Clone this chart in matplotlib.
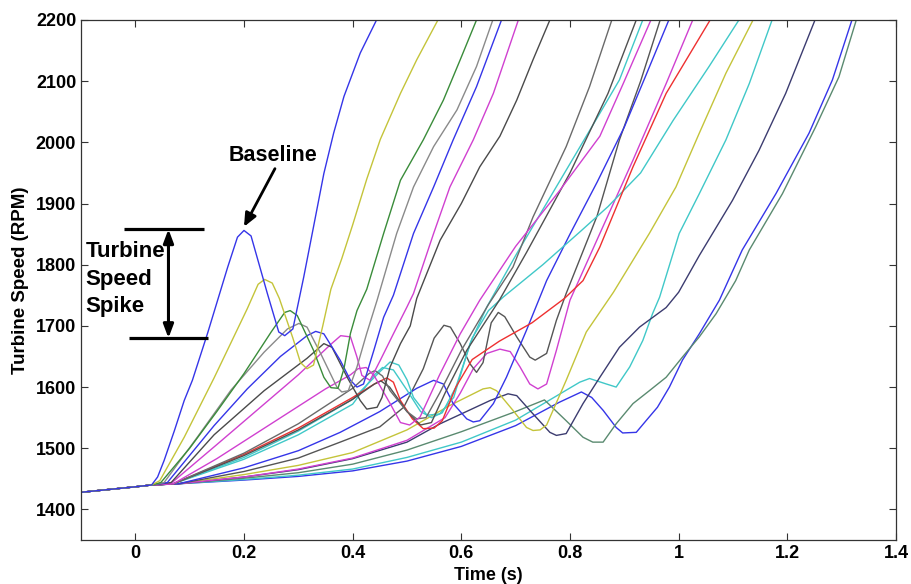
import matplotlib

matplotlib.use("Agg")
import matplotlib.pyplot as plt

plt.rcParams["font.family"] = ["Liberation Sans", "DejaVu Sans"]
plt.rcParams["font.weight"] = "bold"

# shared lead-in before the runs split apart (time s, rpm)
lead_t = [-0.1, 0.0, 0.03]
lead_rpm = [1428, 1437, 1440]

# each run: (time s, turbine speed rpm)
run_baseline = [(0.041, 1453), (0.053, 1480), (0.072, 1529), (0.09, 1578), (0.105, 1611),
                (0.133, 1688), (0.17, 1796), (0.188, 1845), (0.2, 1856), (0.213, 1847),
                (0.243, 1753), (0.264, 1690), (0.275, 1684), (0.29, 1695), (0.31, 1780),
                (0.328, 1862), (0.347, 1949), (0.365, 2015), (0.384, 2075), (0.414, 2146),
                (0.444, 2200)]
run_yellow1 = [(0.045, 1447), (0.09, 1518), (0.145, 1615), (0.206, 1728), (0.226, 1768),
               (0.238, 1776), (0.252, 1770), (0.265, 1745), (0.29, 1680), (0.304, 1640),
               (0.316, 1630), (0.328, 1636), (0.345, 1700), (0.36, 1760), (0.38, 1810),
               (0.4, 1865), (0.426, 1940), (0.451, 2005), (0.488, 2080), (0.518, 2135),
               (0.557, 2200)]
run_green = [(0.047, 1444), (0.1, 1500), (0.15, 1560), (0.2, 1622), (0.25, 1690),
             (0.275, 1722), (0.285, 1725), (0.298, 1717), (0.328, 1660), (0.347, 1616),
             (0.36, 1599), (0.373, 1598), (0.384, 1630), (0.396, 1688), (0.408, 1725),
             (0.426, 1760), (0.457, 1851), (0.488, 1938), (0.53, 2004), (0.567, 2069),
             (0.598, 2135), (0.628, 2200)]
run_gray1 = [(0.053, 1444), (0.114, 1518), (0.176, 1595), (0.237, 1657), (0.28, 1695),
             (0.301, 1704), (0.316, 1698), (0.341, 1655), (0.371, 1600), (0.38, 1592),
             (0.392, 1594), (0.408, 1633), (0.426, 1688), (0.445, 1742), (0.481, 1851),
             (0.512, 1927), (0.549, 1993), (0.592, 2053), (0.628, 2124), (0.658, 2200)]
run_blue2 = [(0.059, 1444), (0.145, 1537), (0.206, 1597), (0.267, 1650), (0.316, 1684),
             (0.332, 1691), (0.347, 1687), (0.377, 1644), (0.396, 1611), (0.408, 1600),
             (0.42, 1605), (0.439, 1660), (0.457, 1714), (0.475, 1750), (0.512, 1851),
             (0.549, 1927), (0.585, 2004), (0.628, 2091), (0.674, 2200)]
run_dark1 = [(0.066, 1444), (0.145, 1522), (0.237, 1594), (0.316, 1647), (0.347, 1671),
             (0.362, 1665), (0.39, 1616), (0.414, 1578), (0.426, 1564), (0.445, 1567),
             (0.454, 1583), (0.469, 1633), (0.488, 1671), (0.506, 1700), (0.518, 1745),
             (0.561, 1840), (0.6, 1900), (0.634, 1960), (0.671, 2010), (0.702, 2069),
             (0.732, 2135), (0.763, 2200)]
run_magenta1 = [(0.065, 1442), (0.15, 1506), (0.3, 1620), (0.36, 1670), (0.378, 1684),
                (0.396, 1682), (0.408, 1649), (0.417, 1619), (0.432, 1611), (0.451, 1644),
                (0.475, 1687), (0.5, 1731), (0.512, 1753), (0.549, 1851), (0.579, 1927),
                (0.622, 2004), (0.659, 2080), (0.705, 2200)]
run_magenta2 = [(0.07, 1442), (0.15, 1483), (0.25, 1540), (0.35, 1597), (0.396, 1620),
                (0.41, 1630), (0.425, 1632), (0.44, 1618), (0.469, 1573), (0.488, 1542),
                (0.505, 1538), (0.524, 1551), (0.56, 1620), (0.598, 1687), (0.634, 1742),
                (0.7, 1830), (0.78, 1920), (0.855, 2010), (0.898, 2096), (0.949, 2200)]
run_gray2 = [(0.07, 1442), (0.2, 1492), (0.3, 1540), (0.4, 1598), (0.43, 1622),
             (0.441, 1627), (0.455, 1618), (0.469, 1594), (0.5, 1560), (0.518, 1548),
             (0.535, 1550), (0.56, 1590), (0.6, 1660), (0.65, 1735), (0.695, 1796),
             (0.732, 1878), (0.793, 1993), (0.836, 2091), (0.877, 2200)]
run_dark2 = [(0.07, 1442), (0.2, 1488), (0.3, 1530), (0.4, 1580), (0.44, 1605),
             (0.452, 1610), (0.468, 1600), (0.5, 1560), (0.525, 1538), (0.545, 1542),
             (0.57, 1590), (0.61, 1660), (0.67, 1742), (0.72, 1820), (0.8, 1950),
             (0.87, 2080), (0.922, 2200)]
run_red = [(0.07, 1442), (0.2, 1490), (0.3, 1533), (0.4, 1583), (0.44, 1605),
           (0.463, 1615), (0.475, 1608), (0.488, 1578), (0.51, 1548), (0.53, 1532),
           (0.55, 1533), (0.565, 1545), (0.59, 1600), (0.62, 1645), (0.67, 1675),
           (0.73, 1705), (0.79, 1745), (0.824, 1774), (0.855, 1829), (0.916, 1960),
           (0.977, 2080), (1.058, 2200)]
run_cyan1 = [(0.07, 1442), (0.2, 1485), (0.3, 1528), (0.4, 1580), (0.45, 1625),
             (0.469, 1641), (0.485, 1636), (0.5, 1612), (0.512, 1583), (0.537, 1554),
             (0.56, 1556), (0.586, 1583), (0.616, 1671), (0.647, 1731), (0.7, 1815),
             (0.75, 1890), (0.8, 1965), (0.85, 2040), (0.891, 2102), (0.934, 2200)]
run_cyan2 = [(0.07, 1442), (0.2, 1482), (0.3, 1522), (0.4, 1572), (0.44, 1620),
             (0.455, 1632), (0.475, 1628), (0.5, 1595), (0.525, 1560), (0.545, 1550),
             (0.565, 1558), (0.59, 1600), (0.62, 1680), (0.65, 1725), (0.677, 1747),
             (0.75, 1800), (0.82, 1855), (0.87, 1895), (0.93, 1950), (0.99, 2036),
             (1.056, 2124), (1.111, 2200)]
run_blue3 = [(0.08, 1442), (0.2, 1468), (0.3, 1496), (0.377, 1526), (0.45, 1560),
             (0.518, 1598), (0.549, 1611), (0.567, 1605), (0.585, 1573), (0.61, 1548),
             (0.622, 1543), (0.634, 1545), (0.659, 1573), (0.683, 1616), (0.72, 1693),
             (0.757, 1774), (0.8, 1850), (0.85, 1935), (0.9, 2025), (0.94, 2110),
             (0.982, 2200)]
run_dark3 = [(0.08, 1442), (0.2, 1462), (0.3, 1484), (0.377, 1510), (0.45, 1535),
             (0.494, 1567), (0.53, 1630), (0.55, 1680), (0.568, 1701), (0.58, 1698),
             (0.598, 1671), (0.616, 1638), (0.628, 1624), (0.64, 1640), (0.655, 1705),
             (0.668, 1722), (0.68, 1715), (0.702, 1682), (0.726, 1649), (0.736, 1644),
             (0.757, 1655), (0.775, 1709), (0.793, 1753), (0.85, 1880), (0.891, 2004),
             (0.93, 2100), (0.966, 2200)]
run_magenta3 = [(0.08, 1442), (0.2, 1453), (0.3, 1466), (0.4, 1484), (0.5, 1513),
                (0.57, 1550), (0.598, 1590), (0.622, 1630), (0.647, 1655), (0.671, 1662),
                (0.69, 1658), (0.708, 1633), (0.726, 1605), (0.741, 1597), (0.757, 1605),
                (0.775, 1660), (0.8, 1742), (0.855, 1851), (0.916, 1971), (0.977, 2096),
                (1.026, 2200)]
run_yellow2 = [(0.08, 1442), (0.2, 1457), (0.3, 1472), (0.4, 1493), (0.5, 1530),
               (0.579, 1570), (0.64, 1597), (0.653, 1599), (0.665, 1594), (0.695, 1562),
               (0.72, 1534), (0.732, 1529), (0.745, 1530), (0.757, 1538), (0.793, 1611),
               (0.83, 1690), (0.88, 1755), (0.946, 1851), (0.995, 1927), (1.038, 2015),
               (1.087, 2113), (1.137, 2200)]
run_navy = [(0.08, 1442), (0.2, 1453), (0.3, 1465), (0.4, 1483), (0.5, 1510),
            (0.561, 1540), (0.653, 1578), (0.686, 1589), (0.702, 1586), (0.726, 1562),
            (0.763, 1526), (0.775, 1521), (0.793, 1524), (0.824, 1573), (0.855, 1616),
            (0.891, 1665), (0.928, 1698), (0.977, 1730), (1.0, 1755), (1.038, 1815),
            (1.099, 1905), (1.148, 1987), (1.197, 2080), (1.251, 2200)]
run_teal = [(0.08, 1442), (0.2, 1451), (0.3, 1460), (0.4, 1474), (0.5, 1497),
            (0.6, 1527), (0.7, 1560), (0.753, 1579), (0.793, 1545), (0.824, 1518),
            (0.842, 1510), (0.861, 1510), (0.885, 1540), (0.916, 1573), (0.946, 1594),
            (0.977, 1616), (1.007, 1649), (1.038, 1682), (1.069, 1720), (1.105, 1774),
            (1.13, 1824), (1.191, 1916), (1.252, 2025), (1.295, 2107), (1.327, 2200)]
run_cyan3 = [(0.08, 1442), (0.2, 1449), (0.3, 1456), (0.4, 1466), (0.5, 1485),
             (0.6, 1510), (0.7, 1546), (0.78, 1588), (0.818, 1608), (0.836, 1614),
             (0.867, 1605), (0.885, 1600), (0.91, 1633), (0.934, 1676), (0.952, 1720),
             (0.965, 1747), (1.001, 1851), (1.038, 1916), (1.087, 2004), (1.13, 2096),
             (1.172, 2200)]
run_blue4 = [(0.08, 1442), (0.2, 1448), (0.3, 1454), (0.4, 1463), (0.5, 1479),
             (0.6, 1503), (0.7, 1537), (0.78, 1575), (0.821, 1592), (0.84, 1583),
             (0.861, 1562), (0.885, 1534), (0.897, 1525), (0.922, 1526), (0.94, 1545),
             (0.961, 1567), (0.983, 1600), (1.007, 1644), (1.038, 1687), (1.075, 1742),
             (1.117, 1824), (1.179, 1916), (1.24, 2015), (1.283, 2102), (1.319, 2200)]

runs = [run_baseline, run_yellow1, run_green, run_gray1, run_blue2, run_dark1,
        run_magenta1, run_magenta2, run_gray2, run_dark2, run_red, run_cyan1,
        run_cyan2, run_blue3, run_dark3, run_magenta3, run_yellow2, run_navy,
        run_teal, run_cyan3, run_blue4]
run_colors = ["#3535e8", "#c4c43a", "#3a8c3a", "#8a8a8a", "#3535e8", "#4a4a4a",
              "#d040d0", "#d040d0", "#6a6a6a", "#505050", "#ee3030", "#40c8c8",
              "#40c8c8", "#3535e8", "#555555", "#d040d0", "#c4c43a", "#3c3c70",
              "#5a8a70", "#40c8c8", "#3535e8"]

spike_top, spike_bottom = 1858, 1680

fig = plt.figure(figsize=(9.11, 5.84), dpi=100)
ax = fig.add_axes([0.0889, 0.0753, 0.8946, 0.8905])

for pts, color in reversed(list(zip(runs, run_colors))):
    t = lead_t + [p[0] for p in pts]
    n = lead_rpm + [p[1] for p in pts]
    ax.plot(t, n, color=color, lw=1.0)

# spike bracket
ax.plot([-0.02, 0.127], [spike_top, spike_top], color="k", lw=2.3, solid_capstyle="butt")
ax.plot([-0.011, 0.133], [spike_bottom, spike_bottom], color="k", lw=2.3, solid_capstyle="butt")
ax.annotate("", xy=(0.061, spike_top), xytext=(0.061, spike_bottom),
            arrowprops=dict(arrowstyle="<|-|>,head_length=0.8,head_width=0.3",
                            lw=2.2, color="k", shrinkA=0, shrinkB=0))
ax.text(-0.092, 1838, "Turbine\nSpeed\nSpike", ha="left", va="top",
        fontsize=16, fontweight="bold", linespacing=1.38)

ax.text(0.253, 1979, "Baseline", ha="center", va="center", fontsize=15.5, fontweight="bold")
ax.annotate("", xy=(0.2, 1862), xytext=(0.257, 1957),
            arrowprops=dict(arrowstyle="-|>,head_length=0.8,head_width=0.35",
                            lw=2.0, color="k", shrinkA=0, shrinkB=0))

ax.set_xlim(-0.1, 1.4)
ax.set_ylim(1350, 2200)
ax.set_xticks([0, 0.2, 0.4, 0.6, 0.8, 1.0, 1.2, 1.4])
ax.set_xticklabels(["0", "0.2", "0.4", "0.6", "0.8", "1", "1.2", "1.4"])
ax.set_yticks(range(1400, 2201, 100))
ax.tick_params(direction="in", top=True, right=True, length=5, width=0.8,
               labelsize=13, pad=3.5, color="#333333")
for lbl in ax.get_xticklabels() + ax.get_yticklabels():
    lbl.set_fontweight("bold")
for sp in ax.spines.values():
    sp.set_linewidth(0.9)
    sp.set_color("#333333")

ax.set_xlabel("Time (s)", fontsize=13, fontweight="bold", labelpad=4)
ax.set_ylabel("Turbine Speed (RPM)", fontsize=13.5, fontweight="bold", labelpad=5)

fig.savefig("out.png", dpi=100)
